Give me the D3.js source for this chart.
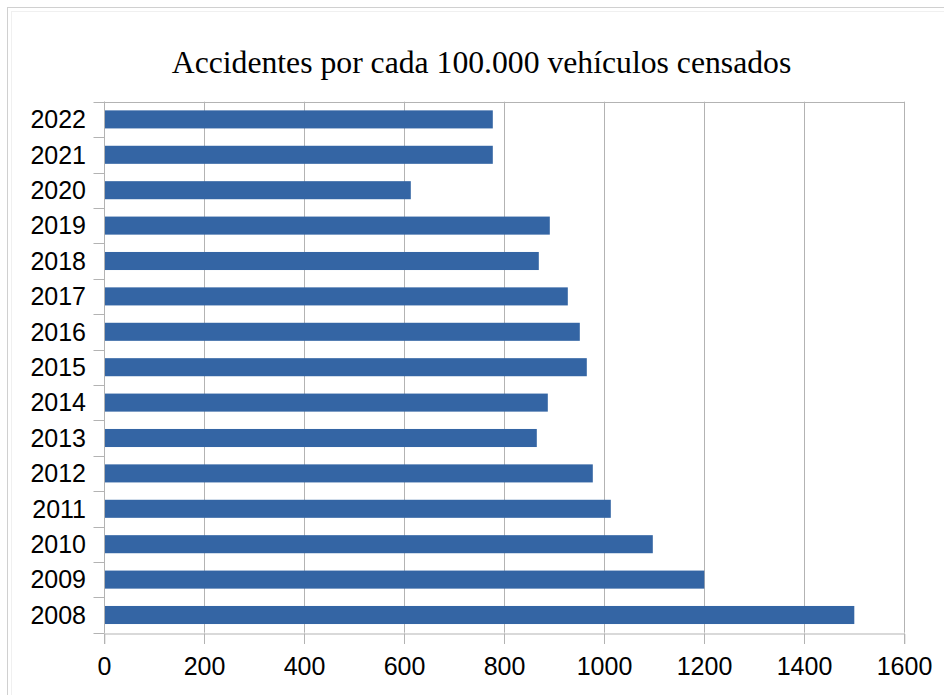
<!DOCTYPE html>
<html><head><meta charset="utf-8">
<script src="https://cdn.jsdelivr.net/npm/d3@7"></script>
<style>html,body{margin:0;padding:0;background:#fff;}svg{display:block;}</style>
</head><body>
<svg id="c" width="944" height="695"></svg>
<script>
const title = "Accidentes por cada 100.000 vehículos censados";
const years = ["2022","2021","2020","2019","2018","2017","2016","2015","2014","2013","2012","2011","2010","2009","2008"];
const values = [777, 777, 613, 891, 869, 927, 951, 965, 887, 865, 977, 1013, 1097, 1200, 1500];
const xTicks = [0, 200, 400, 600, 800, 1000, 1200, 1400, 1600];

const svg = d3.select("#c");
const m = {left: 104.3, right: 904.3, top: 101.7, bottom: 632.7};
const grid = "#b3b3b3";

// outer frame
svg.append("rect").attr("x", 7.5).attr("y", 7.5).attr("width", 960).attr("height", 720)
  .attr("fill", "none").attr("stroke", "#d0d0d0");
svg.append("rect").attr("x", 11.5).attr("y", 11.5).attr("width", 960).attr("height", 720)
  .attr("fill", "none").attr("stroke", "#f0f0f0");

svg.append("text").attr("x", 481.5).attr("y", 73).attr("text-anchor", "middle")
  .attr("font-family", "'Liberation Serif', serif").attr("font-size", 31.7)
  .attr("fill", "#000").text(title);

const x = d3.scaleLinear().domain([0, 1600]).range([m.left, m.right]);
const y = d3.scaleBand().domain(years).range([m.top, m.bottom]).paddingInner(0.49).paddingOuter(0.245);
const yb = d3.scaleBand().domain(years).range([m.top, m.bottom]);

// gridlines
svg.append("g").selectAll("line").data(xTicks).join("line")
  .attr("x1", d => Math.round(x(d)) + 0.5).attr("x2", d => Math.round(x(d)) + 0.5)
  .attr("y1", m.top).attr("y2", m.bottom).attr("stroke", grid);
// plot frame top
svg.append("line").attr("x1", m.left).attr("x2", m.right).attr("y1", Math.round(m.top)+0.5).attr("y2", Math.round(m.top)+0.5).attr("stroke", grid);

// bars
svg.append("g").selectAll("rect").data(years).join("rect")
  .attr("x", x(0)).attr("y", d => y(d)).attr("height", y.bandwidth())
  .attr("width", (d, i) => x(values[i]) - x(0)).attr("fill", "#3465a4");

// x axis
const xa = svg.append("g").attr("transform", `translate(0,${Math.round(m.bottom)+0.5})`)
  .call(d3.axisBottom(x).tickValues(xTicks).tickSize(10.5).tickPadding(13).tickFormat(d3.format("d")));
xa.select(".domain").attr("stroke", grid);
xa.selectAll(".tick line").attr("stroke", grid);
xa.selectAll("text").attr("font-family", "'Liberation Sans', Arial, sans-serif").attr("font-size", 25).attr("fill", "#000");
xa.selectAll(".tick").attr("transform", d => `translate(${Math.round(x(d))+0.5},0)`);

// y axis with ticks at category boundaries
const ya = svg.append("g").attr("transform", `translate(${Math.round(m.left)+0.5},0)`);
ya.append("line").attr("y1", m.top).attr("y2", m.bottom).attr("stroke", grid);
const bounds = years.map(d => yb(d)).concat([m.bottom]);
ya.selectAll("line.t").data(bounds).join("line").attr("class", "t")
  .attr("x1", -11).attr("x2", 0).attr("y1", d => Math.round(d)+0.5).attr("y2", d => Math.round(d)+0.5).attr("stroke", grid);
ya.selectAll("text").data(years).join("text")
  .attr("x", -18.5).attr("y", d => yb(d) + yb.bandwidth()/2).attr("dy", "0.35em")
  .attr("text-anchor", "end").attr("font-family", "'Liberation Sans', Arial, sans-serif")
  .attr("font-size", 25).attr("fill", "#000").text(d => d);
</script>
</body></html>
